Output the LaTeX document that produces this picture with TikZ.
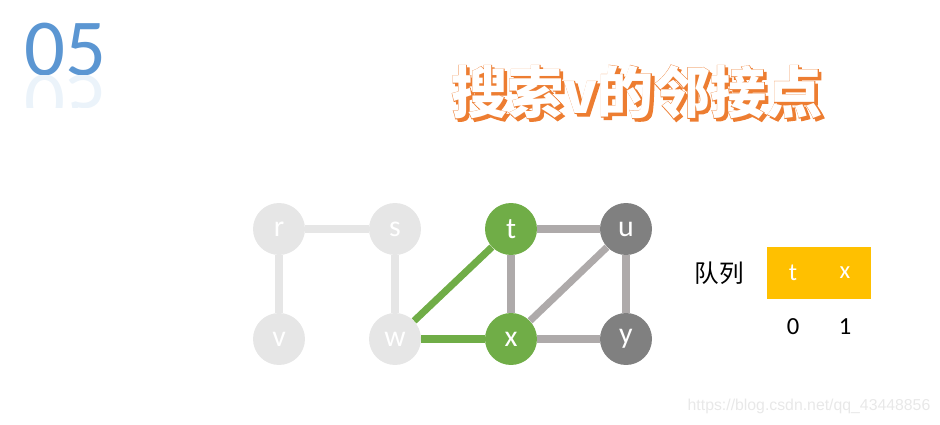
\documentclass[tikz,border=0pt]{standalone}
\usepackage{fontspec}
\setmainfont{Carlito}
\newfontfamily\cjk{Noto Sans CJK SC}
\newfontfamily\cjkrim{Noto Sans CJK SC}[BoldFeatures={FakeBold=2}]
\newfontfamily\webfont{Liberation Sans}
\usetikzlibrary{positioning}

\definecolor{vgreen}{HTML}{70AD47}
\definecolor{vdark}{HTML}{808080}
\definecolor{vlight}{HTML}{E6E6E6}
\definecolor{egray}{HTML}{AEAAAA}
\definecolor{qorange}{HTML}{FFC000}
\definecolor{torange}{HTML}{ED7D31}
\definecolor{nblue}{HTML}{5B96D2}

\tikzset{
  vert/.style={circle, minimum size=1.04cm, inner sep=0pt, text=white,
    font=\fontsize{17}{17}\selectfont},
  done/.style={vert, fill=vlight},
  seen/.style={vert, fill=vgreen},
  todo/.style={vert, fill=vdark},
  oldedge/.style={vlight, line width=4pt},
  newedge/.style={egray, line width=4pt},
  hitedge/.style={vgreen, line width=4pt},
  cell/.style={fill=qorange, minimum width=1.04cm, minimum height=1.04cm,
    inner sep=0pt, outer sep=0pt, text=white, font=\fontsize{14}{14}\selectfont},
  plain/.style={font=\fontsize{14}{14}\selectfont},
  titletext/.style={font=\cjk\bfseries\fontsize{32}{32}\selectfont},
  titlerim/.style={font=\cjkrim\bfseries\fontsize{32}{32}\selectfont, text=torange}
}

\begin{document}
\begin{tikzpicture}[x=0.02cm, y=-0.02cm]
\useasboundingbox (0,0) rectangle (940,425);

% "05" mit Spiegelung
\node[anchor=base, text=nblue, font=\fontsize{46}{46}\selectfont] (num) at (65,76) {05};
\begin{scope}
\clip (0,76) rectangle (150,108);
\begin{scope}[shift={(65,76)}, yscale=-1, transform shape]
\node[anchor=base, text=nblue!12, font=\fontsize{46}{46}\selectfont] (numrefl) at (0,0) {05};
\end{scope}
\end{scope}

% Titel: Schatten, Umriss, weiss gefuellt
\node[titlerim, xshift=1.5pt, yshift=-1.5pt] (shadow) at (637,92) {搜索v的邻接点};
\node[titlerim] (rim) at (637,92) {搜索v的邻接点};
\node[titletext, text=white] (title) at (637,92) {搜索v的邻接点};

% Knoten
\node[done] (r) at (279,229) {r};
\node[done] (s) at (395,229) {s};
\node[seen] (t) at (511,229) {t};
\node[todo] (u) at (626,229) {u};
\node[done] (v) at (279,339) {v};
\node[done] (w) at (395,339) {w};
\node[seen] (x) at (511,339) {x};
\node[todo] (y) at (626,339) {y};

% Kanten
\draw[oldedge] (r) -- (s);
\draw[oldedge] (r) -- (v);
\draw[oldedge] (s) -- (w);
\draw[hitedge] (w) -- (t);
\draw[hitedge] (w) -- (x);
\draw[newedge] (t) -- (u);
\draw[newedge] (t) -- (x);
\draw[newedge] (x) -- (u);
\draw[newedge] (u) -- (y);
\draw[newedge] (x) -- (y);

% Warteschlange
\node[plain, font=\cjk\fontsize{14}{14}\selectfont] (qlabel) at (719,273) {队列};
\node[cell] (qt) at (793,273) {t};
\node[cell, right=0pt of qt] (qx) {x};
\node[plain] (i0) at (793,327) {0};
\node[plain] (i1) at (845,327) {1};

% Wasserzeichen
\node[text=black!9, font=\webfont\fontsize{9}{9}\selectfont] (mark) at (809,406) {https://blog.csdn.net/qq\_43448856};
\end{tikzpicture}
\end{document}
